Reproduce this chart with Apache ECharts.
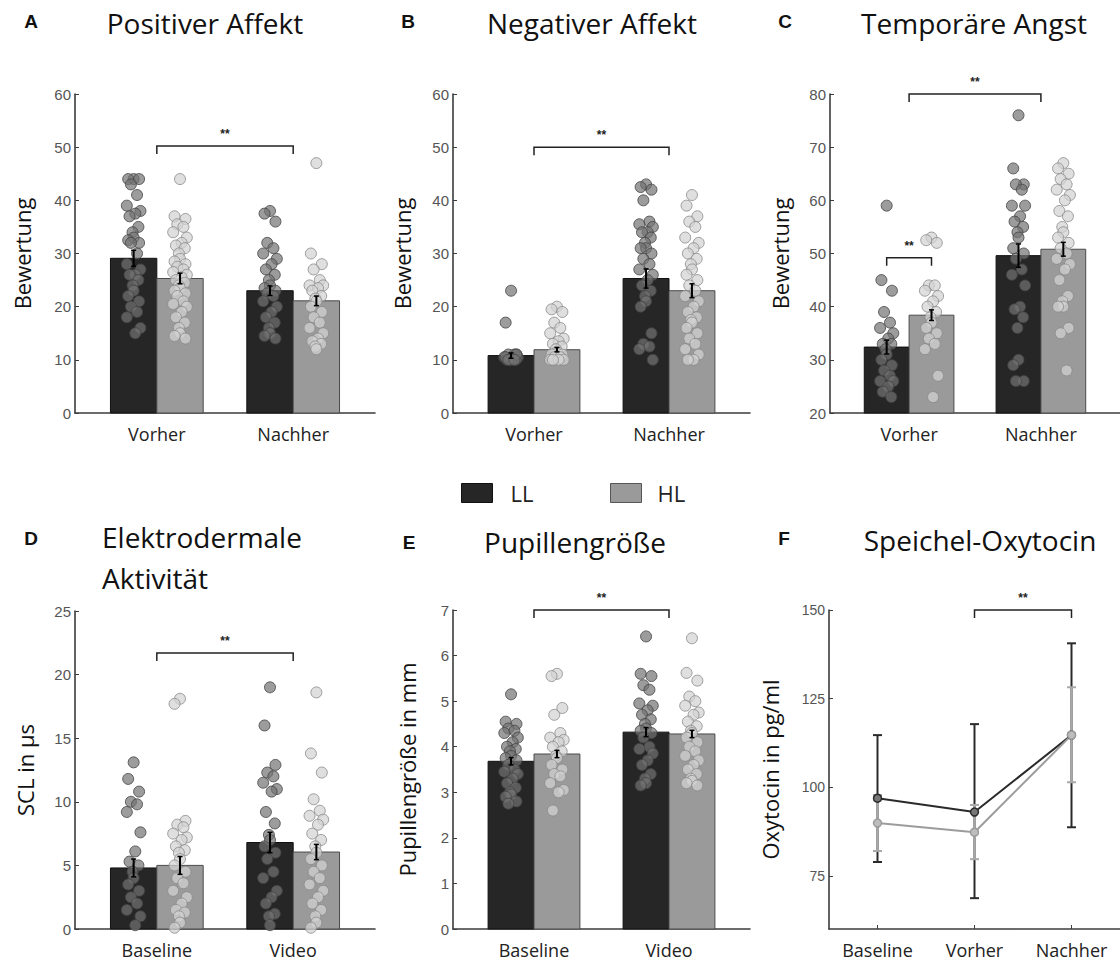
<!DOCTYPE html>
<html><head><meta charset="utf-8">
<script src="https://cdn.jsdelivr.net/npm/echarts@6/dist/echarts.min.js"></script>
<style>html,body{margin:0;padding:0;background:#fff}#c{width:1120px;height:967px}</style>
</head><body><div id="c"></div>
<script>
// ---------------- data ----------------
const barCats = [1, 2];
const labelsABC = ['Vorher', 'Nachher'];
const labelsDE = ['Baseline', 'Video'];
const labelsF = ['Baseline', 'Vorher', 'Nachher'];
const ticksF = [75, 100, 125, 150];

// A Positiver Affekt
const A_mean_LL = [29.1, 23.0], A_mean_HL = [25.3, 21.1];
const A_se_LL = [1.5, 0.9], A_se_HL = [1.0, 0.9];
const A_LL_V = [44,44,44,43,41,39,38,37.5,37,35,34,33,32.5,32,32,30,28,27,26,26,25,24,23,22,21,20,19,18,16,15];
const A_HL_V = [44,37,36.5,35.5,35,34,33,32,31.5,31,30,29,28.5,28,27.5,27,26.5,26,25.5,25,24.5,24,23.5,23,22.5,22,21,20.5,20,19,18,17,16,15,14.5,14];
const A_LL_N = [38,37.5,36,32,31,30,29,28,27,26,25,24,23.5,23,22.5,22,21,20,19,18,17,16,15,14.5,14];
const A_HL_N = [47,30,28,27,25,24,24,23.5,23,22,21.5,21,20,19,18,17,16,15,14,13.5,13,12.5,12];

// B Negativer Affekt
const B_mean_LL = [10.8, 25.3], B_mean_HL = [11.9, 23.0];
const B_se_LL = [0.5, 1.8], B_se_HL = [0.4, 1.3];
const B_LL_V = [23,17,11,11,11,10.5,10.5,10,10,10,10,10,10.5,11,10,10];
const B_HL_V = [20,19.5,19,17,16,15,14,13.5,13,12.5,12,11.5,11,11,10.5,10.5,10,10,10,10];
const B_LL_N = [43,42.5,42,40,36,35.5,35,34,34,33,32,31,31,30,29,28,27,26,25,24,23,22,21,20,15,13,12.5,12,10];
const B_HL_N = [41,39,37,36,35,33,32,31,30,29,28,27,26,25,24,23,22,21,20,19,18,17.5,17,16,15,14,13,12,11,10,10];

// C Temporäre Angst
const C_mean_LL = [32.4, 49.6], C_mean_HL = [38.4, 50.8];
const C_se_LL = [1.3, 2.2], C_se_HL = [1.0, 1.3];
const C_LL_V = [59,45,43,39,37,36,35,34,33,33,32,31,30,29,28,27,26,26,25,24,23];
const C_HL_V = [53,52.5,52,44,44,43,42,41,40,39,38,37,36,35,34,33,32,27,23];
const C_LL_N = [76,66,63,63,62,59,59,57,56,55,54,53,51,50,49,47,46,44,40,39.5,38,36,30,29,26,26];
const C_HL_N = [67,66,65,64,63,62,61,60,58,57,55,54,53,52,51,50,49,48,47,45,42,41,40,40,36,35,28];

// D Elektrodermale Aktivität
const D_mean_LL = [4.8, 6.8], D_mean_HL = [5.0, 6.05];
const D_se_LL = [0.7, 0.8], D_se_HL = [0.7, 0.6];
const D_LL_B = [13.1,11.8,10.8,10,9.8,9.2,7.6,6.1,5.3,5,4.5,4,3.5,3,2.5,2,1.5,1,0.3];
const D_HL_B = [18.1,17.7,8.5,8.2,8,7.5,7.2,7,6.5,6.2,6,5.5,5,4.5,4,3.6,3,2.5,2,1.5,1.3,1,0.5,0.1];
const D_LL_Vd = [19,16,12.9,12.3,12,11.5,11,10.8,9.2,8.3,7.4,7,6.5,6,5.5,4.5,4,3,2.5,2,1.2,1,0.3];
const D_HL_Vd = [18.6,13.8,12.3,10.2,9.3,8.9,8.6,8.2,7.5,7,6.5,6,5.5,5,4.5,4,3.5,3,2.5,2,1.5,1,0.5,0.1];

// E Pupillengröße
const E_mean_LL = [3.68, 4.32], E_mean_HL = [3.84, 4.28];
const E_se_LL = [0.08, 0.1], E_se_HL = [0.08, 0.08];
const E_LL_B = [5.15,4.55,4.5,4.4,4.35,4.3,4.2,4.1,4,3.95,3.9,3.8,3.75,3.7,3.6,3.5,3.45,3.4,3.3,3.2,3.1,3,2.95,2.9,2.8,2.75];
const E_HL_B = [5.6,5.55,4.85,4.7,4.3,4.2,4.15,4.1,4,3.9,3.8,3.75,3.6,3.5,3.4,3.35,3.2,3.05,3,2.6];
const E_LL_Vd = [6.42,5.6,5.55,5.35,5.25,4.95,4.9,4.8,4.7,4.6,4.5,4.4,4.35,4.3,4.2,4,3.95,3.85,3.7,3.6,3.4,3.3,3.2,3.15];
const E_HL_Vd = [6.38,5.62,5.45,5.1,5,4.9,4.75,4.7,4.55,4.45,4.35,4.3,4.2,4.1,4,3.9,3.8,3.7,3.6,3.5,3.4,3.3,3.25,3.2,3.15];

// F Speichel-Oxytocin
const F_LL_mean = [96.9, 93.0, 114.7], F_LL_lo = [78.9, 68.7, 88.7], F_LL_hi = [114.7, 117.8, 140.6];
const F_HL_mean = [89.9, 87.3, 114.7], F_HL_lo = [82.0, 79.7, 101.4], F_HL_hi = [97.8, 95.0, 128.2];

// significance brackets [x1, x2, y]
const A_br = [[1, 2, 50.2]];
const B_br = [[1, 2, 50]];
const C_br = [[1, 2, 80], [0.83, 1.17, 49.2]];
const D_br = [[1, 2, 21.7]];
const E_br = [[1, 2, 7.0]];
const F_br = [[2, 3, 150]];

// ---------------- layout / style ----------------
const HALF = 0.17, OFF = 0.17;
const JIT = [0, -0.04, 0.04, -0.02, 0.025, -0.05, 0.05, 0.012, -0.03, 0.035, -0.008];
const LL_FILL = '#262626', LL_STROKE = '#111', HL_FILL = '#9a9a9a', HL_STROKE = '#4a4a4a';
const AXC = '#3c3c3c';

function barSeries(gi, name, means, off, base, fill, stroke) {
  return {type: 'custom', name, xAxisIndex: gi, yAxisIndex: gi, z: 2, silent: true,
    data: means.map((m, i) => [barCats[i] + off, m]),
    renderItem: (p, api) => {
      const x = api.value(0), v = api.value(1);
      const a = api.coord([x - HALF, v]), b = api.coord([x + HALF, base]);
      return {type: 'rect', shape: {x: a[0], y: a[1], width: b[0] - a[0], height: b[1] - a[1]},
        style: {fill, stroke, lineWidth: 1}};
    }};
}
function dotSeries(gi, groups, off, color, border) {
  const data = [];
  groups.forEach((vals, ci) => vals.forEach((v, i) => data.push([barCats[ci] + off + JIT[i % JIT.length], v])));
  return {type: 'scatter', xAxisIndex: gi, yAxisIndex: gi, z: 3, silent: true, symbolSize: 11, data,
    itemStyle: {color, borderColor: border, borderWidth: 1}};
}
function errSeries(gi, means, ses, off) {
  return {type: 'custom', xAxisIndex: gi, yAxisIndex: gi, z: 4, silent: true,
    data: means.map((m, i) => [barCats[i] + off, m, ses[i]]),
    renderItem: (p, api) => {
      const x = api.value(0), m = api.value(1), s = api.value(2);
      const t = api.coord([x, m + s]), b = api.coord([x, m - s]);
      const st = {stroke: '#000', lineWidth: 2};
      return {type: 'group', children: [
        {type: 'line', shape: {x1: t[0], y1: t[1], x2: b[0], y2: b[1]}, style: st},
        {type: 'line', shape: {x1: t[0] - 2.5, y1: t[1], x2: t[0] + 2.5, y2: t[1]}, style: {stroke: '#000', lineWidth: 1.5}},
        {type: 'line', shape: {x1: b[0] - 2.5, y1: b[1], x2: b[0] + 2.5, y2: b[1]}, style: {stroke: '#000', lineWidth: 1.5}}
      ]};
    }};
}
function bracketSeries(gi, br) {
  return {type: 'custom', xAxisIndex: gi, yAxisIndex: gi, z: 5, silent: true, clip: false, data: br,
    renderItem: (p, api) => {
      const y = api.value(2);
      const a = api.coord([api.value(0), y]), b = api.coord([api.value(1), y]);
      return {type: 'group', children: [
        {type: 'polyline', shape: {points: [[a[0], a[1] + 8], [a[0], a[1]], [b[0], b[1]], [b[0], b[1] + 8]]},
          style: {stroke: '#222', lineWidth: 1.5, fill: null}},
        {type: 'text', x: (a[0] + b[0]) / 2, y: a[1] - 12,
          style: {text: '**', align: 'center', verticalAlign: 'middle', font: 'bold 12px "Liberation Sans"', fill: '#222'}}
      ]};
    }};
}
function xAx(gi, min, max, labels, ticks) {
  return {gridIndex: gi, type: 'value', min, max,
    axisLine: {show: true, onZero: false, lineStyle: {color: AXC, width: 1.6}},
    splitLine: {show: false},
    axisTick: ticks ? {show: true, inside: true, length: 4, customValues: labels.map((_, i) => i + 1), lineStyle: {color: AXC}} : {show: false},
    axisLabel: {customValues: labels.map((_, i) => i + 1), formatter: v => labels[Math.round(v) - 1] || '',
      fontFamily: 'Open Sans', fontSize: 18, color: '#222', margin: 12}};
}
function yAx(gi, min, max, interval, name, nameGap, extra) {
  const ax = {gridIndex: gi, type: 'value', min, max, interval, name, nameLocation: 'middle', nameGap, nameRotate: 90,
    nameTextStyle: {fontFamily: 'Open Sans', fontSize: 22, color: '#111'},
    axisLine: {show: true, onZero: false, lineStyle: {color: AXC, width: 1.6}},
    axisTick: {show: true, inside: true, length: 4, lineStyle: {color: AXC}},
    axisLabel: {fontFamily: 'Liberation Sans', fontSize: 15, color: '#555', margin: 4},
    splitLine: {show: false}};
  return Object.assign(ax, extra || {});
}

const grids = [
  {left: 75, top: 94, width: 300, height: 319},
  {left: 453, top: 94, width: 297, height: 319},
  {left: 830, top: 94, width: 297, height: 319},
  {left: 75, top: 611, width: 300, height: 318},
  {left: 453, top: 610, width: 297, height: 319},
  {left: 829, top: 610, width: 298, height: 319}
];

const xAxes = [
  xAx(0, 0.4, 2.6, labelsABC), xAx(1, 0.4, 2.6, labelsABC), xAx(2, 0.4, 2.6, labelsABC),
  xAx(3, 0.4, 2.6, labelsDE), xAx(4, 0.4, 2.6, labelsDE), xAx(5, 0.5, 3.5, labelsF, true)
];
const yAxes = [
  yAx(0, 0, 60, 10, 'Bewertung', 42),
  yAx(1, 0, 60, 10, 'Bewertung', 40),
  yAx(2, 20, 80, 10, 'Bewertung', 39),
  yAx(3, 0, 25, 5, 'SCL in µs', 39),
  yAx(4, 0, 7, 1, 'Pupillengröße in mm', 35),
  yAx(5, 60, 150, null, 'Oxytocin in pg/ml', 48, {
    axisTick: {show: true, inside: true, length: 4, customValues: ticksF, lineStyle: {color: AXC}},
    axisLabel: {customValues: ticksF, fontFamily: 'Liberation Sans', fontSize: 14, color: '#555', margin: 4}})
];
delete yAxes[5].interval;

const series = [];
function barPanel(gi, mLL, mHL, sLL, sHL, dLL, dHL, base, br) {
  series.push(barSeries(gi, 'LL', mLL, -OFF, base, LL_FILL, LL_STROKE));
  series.push(barSeries(gi, 'HL', mHL, OFF, base, HL_FILL, HL_STROKE));
  series.push(dotSeries(gi, dLL, -OFF, 'rgba(115,115,115,0.88)', '#444'));
  series.push(dotSeries(gi, dHL, OFF, 'rgba(210,210,210,0.9)', '#8a8a8a'));
  series.push(errSeries(gi, mLL, sLL, -OFF));
  series.push(errSeries(gi, mHL, sHL, OFF));
  series.push(bracketSeries(gi, br));
}
barPanel(0, A_mean_LL, A_mean_HL, A_se_LL, A_se_HL, [A_LL_V, A_LL_N], [A_HL_V, A_HL_N], 0, A_br);
barPanel(1, B_mean_LL, B_mean_HL, B_se_LL, B_se_HL, [B_LL_V, B_LL_N], [B_HL_V, B_HL_N], 0, B_br);
barPanel(2, C_mean_LL, C_mean_HL, C_se_LL, C_se_HL, [C_LL_V, C_LL_N], [C_HL_V, C_HL_N], 20, C_br);
barPanel(3, D_mean_LL, D_mean_HL, D_se_LL, D_se_HL, [D_LL_B, D_LL_Vd], [D_HL_B, D_HL_Vd], 0, D_br);
barPanel(4, E_mean_LL, E_mean_HL, E_se_LL, E_se_HL, [E_LL_B, E_LL_Vd], [E_HL_B, E_HL_Vd], 0, E_br);

function fErr(lo, hi, color, lw) {
  return {type: 'custom', xAxisIndex: 5, yAxisIndex: 5, silent: true, z: 3,
    data: lo.map((l, i) => [i + 1, l, hi[i]]),
    renderItem: (p, api) => {
      const x = api.value(0);
      const t = api.coord([x, api.value(2)]), b = api.coord([x, api.value(1)]);
      const st = {stroke: color, lineWidth: lw};
      return {type: 'group', children: [
        {type: 'line', shape: {x1: t[0], y1: t[1], x2: b[0], y2: b[1]}, style: st},
        {type: 'line', shape: {x1: t[0] - 4.5, y1: t[1], x2: t[0] + 4.5, y2: t[1]}, style: st},
        {type: 'line', shape: {x1: b[0] - 4.5, y1: b[1], x2: b[0] + 4.5, y2: b[1]}, style: st}
      ]};
    }};
}
function fLine(means, color, fill) {
  return {type: 'line', xAxisIndex: 5, yAxisIndex: 5, silent: true, z: 4,
    data: means.map((m, i) => [i + 1, m]), symbol: 'circle', symbolSize: 8,
    lineStyle: {color, width: 2}, itemStyle: {color: fill, borderColor: color, borderWidth: 1.5}};
}
series.push(fErr(F_LL_lo, F_LL_hi, '#2a2a2a', 2));
series.push(fLine(F_LL_mean, '#2a2a2a', '#777'));
series.push(fErr(F_HL_lo, F_HL_hi, '#a8a8a8', 2));
series.push(fLine(F_HL_mean, '#9c9c9c', '#bdbdbd'));
series.push(bracketSeries(5, F_br));

// ---------------- texts ----------------
const TF = '"Open Sans"';
function txt(text, x, y, align, font) {
  return {type: 'text', x, y, silent: true,
    style: {text, align, verticalAlign: 'middle', font, fill: '#111'}};
}
const letterFont = 'bold 19px "Liberation Sans"';
const titleFont = '28px ' + TF;
const graphics = [
  txt('A', 31, 21, 'center', letterFont), txt('Positiver Affekt', 205, 23, 'center', titleFont),
  txt('B', 408, 21, 'center', letterFont), txt('Negativer Affekt', 592, 23, 'center', titleFont),
  txt('C', 785, 21, 'center', letterFont), txt('Temporäre Angst', 974, 23, 'center', titleFont),
  txt('D', 31, 538, 'center', letterFont), txt('Elektrodermale', 102, 537, 'left', titleFont),
  txt('Aktivität', 102, 578, 'left', titleFont),
  txt('E', 409, 542, 'center', letterFont), txt('Pupillengröße', 575, 542, 'center', titleFont),
  txt('F', 784, 538, 'center', letterFont), txt('Speichel-Oxytocin', 980, 540, 'center', titleFont)
];

const chart = echarts.init(document.getElementById('c'), null, {renderer: 'svg'});
chart.setOption({
  animation: false,
  backgroundColor: '#fff',
  grid: grids,
  xAxis: xAxes,
  yAxis: yAxes,
  legend: [
    {left: 456, top: 477, itemWidth: 31, itemHeight: 19, selectedMode: false,
      textStyle: {fontFamily: TF, fontSize: 22, color: '#222', padding: [0, 0, 0, 13]},
      data: [{name: 'LL', icon: 'rect', itemStyle: {color: LL_FILL, borderColor: '#111', borderWidth: 1}}]},
    {left: 605, top: 477, itemWidth: 31, itemHeight: 19, selectedMode: false,
      textStyle: {fontFamily: TF, fontSize: 22, color: '#222', padding: [0, 0, 0, 11]},
      data: [{name: 'HL', icon: 'rect', itemStyle: {color: HL_FILL, borderColor: '#555', borderWidth: 1}}]}
  ],
  graphic: graphics,
  series
});
</script></body></html>
